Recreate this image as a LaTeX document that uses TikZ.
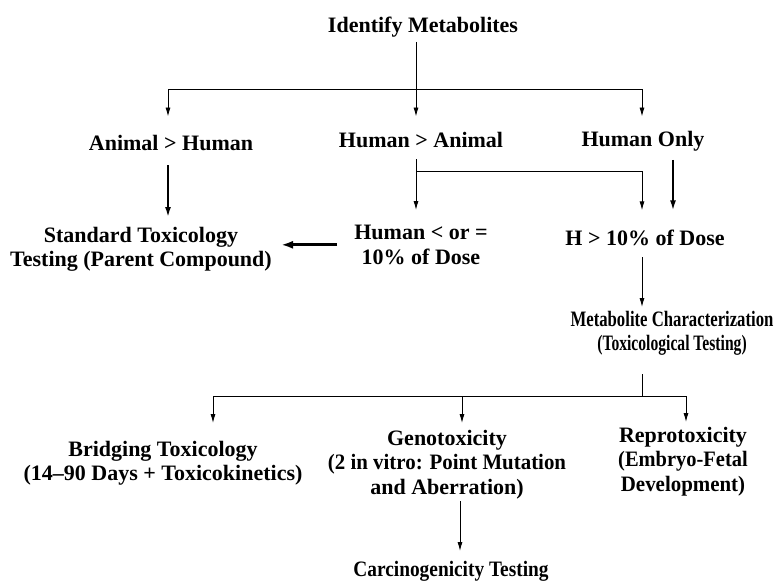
\documentclass[tikz,border=0pt]{standalone}
\usepackage{fontspec}
\setmainfont{Liberation Serif}
\usepackage{graphicx}
\usetikzlibrary{arrows.meta}
% horizontally condensed text
\newcommand\hsq[2]{\scalebox{#1}[1]{#2}}
\begin{document}
\begin{tikzpicture}[x=1pt,y=-1pt,
  lbl/.style={inner sep=0pt, font=\bfseries\fontsize{22}{24.5}\selectfont, align=center, text=black},
  conn/.style={line width=0.9pt},
  arr/.style={conn, -{Latex[length=9pt,width=5pt]}},
  arrbold/.style={line width=1.7pt, -{Latex[length=10pt,width=6pt]}},
  arrheavy/.style={line width=2.8pt, -{Latex[length=12pt,width=8pt]}}
]
\useasboundingbox (0,0) rectangle (778,582);

% labels
\node[lbl, anchor=base] (idm) at (423,32) {Identify Metabolites};
\node[lbl, anchor=base] (a1) at (171,150) {Animal > Human};
\node[lbl, anchor=base] (a2) at (421,147) {Human > Animal};
\node[lbl, anchor=base] (a3) at (643,146) {Human Only};
\node[lbl, anchor=north] (std) at (141,227) {Standard Toxicology\\Testing (Parent Compound)};
\node[lbl, anchor=north] (hle) at (421,225) {Human < or =\\10\% of Dose};
\node[lbl, anchor=base] (h10) at (645,245) {H > 10\% of Dose};
\node[lbl, anchor=north] (mc) at (672,311) {\hsq{0.76}{Metabolite Characterization}\\\hsq{0.71}{(Toxicological Testing)}};
\node[lbl, anchor=north] (br) at (163,441) {Bridging Toxicology\\(14--90 Days + Toxicokinetics)};
\node[lbl, anchor=north] (gen) at (447,430) {Genotoxicity\\\hsq{0.95}{(2 in vitro: Point Mutation}\\and Aberration)};
\node[lbl, anchor=north] (rep) at (683,427) {Reprotoxicity\\\hsq{0.93}{(Embryo-Fetal}\\\hsq{0.95}{Development)}};
\node[lbl, anchor=base] (carc) at (451,576.5) {\hsq{0.88}{Carcinogenicity Testing}};

% junction points
\coordinate (jt) at (416,89);
\coordinate (jl) at (168,89);
\coordinate (jr) at (642,89);
\coordinate (jm) at (416,171);
\coordinate (jm2) at (642,171);
\coordinate (xo) at (673,0);
\coordinate (jb) at (642,396);
\coordinate (jbl) at (213,396);
\coordinate (jbm) at (462,396);
\coordinate (jbr) at (686,396);
\coordinate (xg) at (460,0);

% first split
\draw[arr, shorten <=5pt, shorten >=15pt] (idm.south -| jt) -- (a2.north -| jt);
\draw[conn] (jl) -- (jr);
\draw[arr, shorten >=18pt] (jl) -- (a1.north -| jl);
\draw[arr, shorten >=14pt] (jr) -- (a3.north -| jr);

% second level
\draw[arrbold, shorten <=15pt, shorten >=10pt] (a1.south -| jl) -- (std.north -| jl);
\draw[arr, shorten <=12pt, shorten >=15pt] (a2.south -| jm) -- (hle.north -| jm);
\draw[arr, shorten >=19pt] (jm) -- (jm2) -- (h10.north -| jm2);
\draw[arrbold, shorten <=9pt, shorten >=19pt] (a3.south -| xo) -- (h10.north -| xo);
\draw[arrheavy, shorten <=17pt, shorten >=9pt] (hle.west) -- (std.east |- hle.west);

% characterization
\draw[arr, shorten <=12pt, shorten >=4pt] (h10.south -| jr) -- (mc.north -| jr);
\draw[conn, shorten <=18pt] (mc.south -| jb) -- (jb);
\draw[conn] (jbl) -- (jbr);
\draw[arr, shorten >=18pt] (jbl) -- (br.north -| jbl);
\draw[arr, shorten >=7pt] (jbm) -- (gen.north -| jbm);
\draw[arr, shorten >=5pt] (jbr) -- (rep.north -| jbr);
\draw[arr, shorten <=2pt, shorten >=10pt] (gen.south -| xg) -- (carc.north -| xg);
\end{tikzpicture}
\end{document}
